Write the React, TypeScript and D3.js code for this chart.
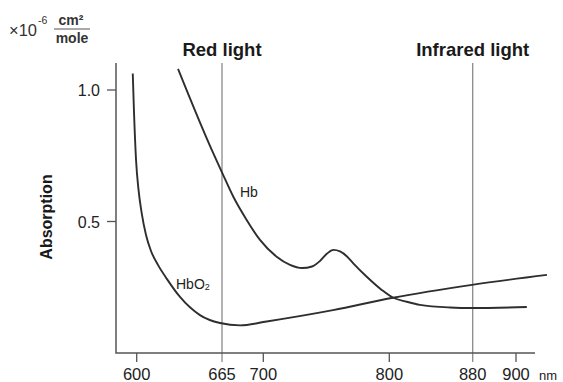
import { useEffect, useRef } from 'react';
import * as d3 from 'd3';

// wavelength (nm) / absorption (x10^-6 cm2/mole)
const hbo2Wave = [597, 597.9, 599.5, 601.4, 603.8, 607.1, 610.9, 616.2, 623.1, 633, 648.2, 663.5, 680.3, 702.7, 755.3, 803.5, 879.3, 914.3];
const hbo2Abs = [1.063, 0.922, 0.734, 0.62, 0.532, 0.449, 0.388, 0.335, 0.281, 0.213, 0.144, 0.114, 0.105, 0.12, 0.163, 0.21, 0.259, 0.297];

const hbWave = [631.5, 657.2, 664.8, 674.6, 685.9, 697.2, 710.6, 721.2, 730.7, 738.7, 745, 750.6, 755.6, 760.9, 766.4, 771.4, 782.1, 794, 803.8, 816.7, 829.4, 858.2, 879.3, 905];
const hbAbs = [1.08, 0.772, 0.689, 0.594, 0.506, 0.43, 0.366, 0.335, 0.323, 0.329, 0.35, 0.378, 0.392, 0.386, 0.367, 0.341, 0.29, 0.24, 0.21, 0.195, 0.183, 0.173, 0.171, 0.175];

const xTicks = [600, 665, 700, 800, 880, 900];
const yTicks = [0.5, 1.0];
const markers = [
  { nm: 665, label: 'Red light' },
  { nm: 880, label: 'Infrared light' },
];

const W = 563;
const H = 382;
const FONT = '"Liberation Sans", Arial, Helvetica, sans-serif';

const App = () => {
  const svgRef = useRef<SVGSVGElement>(null);

  useEffect(() => {
    const svg = d3.select(svgRef.current);
    svg.selectAll('*').remove();

    // the original drawing's wavelength axis is not evenly spaced
    const x = d3.scaleLinear()
      .domain(xTicks)
      .range([136.7, 222, 263.3, 389.3, 472.7, 516]);
    const y = d3.scaleLinear().domain([0, 1]).range([353, 90]);

    const x0 = 116, x1 = 535, yTop = 63, yBase = 353;

    svg.append('rect').attr('width', W).attr('height', H).attr('fill', '#fff');

    // marker lines
    markers.forEach(m => {
      svg.append('line')
        .attr('x1', x(m.nm)).attr('x2', x(m.nm))
        .attr('y1', yTop).attr('y2', yBase + 9)
        .attr('stroke', '#8a8a8a').attr('stroke-width', 1.3);
      svg.append('text')
        .attr('x', x(m.nm)).attr('y', 56)
        .attr('text-anchor', 'middle')
        .style('font', `bold 18.5px ${FONT}`)
        .attr('fill', '#1a1a1a')
        .text(m.label);
    });

    // axes
    svg.append('path')
      .attr('d', `M${x0},${yTop}V${yBase}H${x1}`)
      .attr('fill', 'none').attr('stroke', '#555').attr('stroke-width', 1.5);

    yTicks.forEach(t => {
      svg.append('line')
        .attr('x1', x0 - 9).attr('x2', x0).attr('y1', y(t)).attr('y2', y(t))
        .attr('stroke', '#555').attr('stroke-width', 1.3);
      svg.append('text')
        .attr('x', x0 - 16).attr('y', y(t) + 6)
        .attr('text-anchor', 'end')
        .style('font', `16px ${FONT}`).attr('fill', '#222')
        .text(t.toFixed(1));
    });

    xTicks.forEach(t => {
      if (t !== 665 && t !== 880) {
        svg.append('line')
          .attr('x1', x(t)).attr('x2', x(t)).attr('y1', yBase).attr('y2', yBase + 9)
          .attr('stroke', '#555').attr('stroke-width', 1.3);
      }
      svg.append('text')
        .attr('x', x(t)).attr('y', 380)
        .attr('text-anchor', 'middle')
        .style('font', `16.5px ${FONT}`).attr('fill', '#222')
        .text(t);
    });
    svg.append('text')
      .attr('x', 539).attr('y', 380)
      .style('font', `13px ${FONT}`).attr('fill', '#222')
      .text('nm');

    svg.append('text')
      .attr('transform', 'translate(52,217) rotate(-90)')
      .attr('text-anchor', 'middle')
      .style('font', `bold 16px ${FONT}`).attr('fill', '#1a1a1a')
      .text('Absorption');

    // unit label: x10^-6 cm2/mole
    const unit = svg.append('g').attr('fill', '#333').style('font-family', FONT);
    const pow = unit.append('text').attr('x', 9).attr('y', 36).style('font-size', '16.5px');
    pow.append('tspan').text('×10');
    pow.append('tspan').attr('dx', 1).attr('dy', -12).style('font-size', '10.5px').text('-6');
    unit.append('text').attr('x', 71).attr('y', 25).attr('text-anchor', 'middle')
      .style('font-size', '14px').style('font-weight', 'bold').text('cm²');
    unit.append('line').attr('x1', 54).attr('x2', 90).attr('y1', 29).attr('y2', 29)
      .attr('stroke', '#555').attr('stroke-width', 1.2);
    unit.append('text').attr('x', 72).attr('y', 43).attr('text-anchor', 'middle')
      .style('font-size', '14px').style('font-weight', 'bold').text('mole');

    // curves
    const line = d3.line<[number, number]>()
      .x(d => x(d[0]))
      .y(d => y(d[1]))
      .curve(d3.curveMonotoneX);

    const series = [
      d3.zip(hbo2Wave, hbo2Abs) as [number, number][],
      d3.zip(hbWave, hbAbs) as [number, number][],
    ];
    svg.append('g').selectAll('path')
      .data(series)
      .join('path')
      .attr('d', d => line(d))
      .attr('fill', 'none')
      .attr('stroke', '#2e2e2e')
      .attr('stroke-width', 1.9);

    // curve labels
    svg.append('text')
      .attr('x', 240).attr('y', 197)
      .style('font', `14px ${FONT}`).attr('fill', '#222')
      .text('Hb');
    const hbo2 = svg.append('text')
      .attr('x', 176).attr('y', 289)
      .style('font', `14px ${FONT}`).attr('fill', '#222');
    hbo2.append('tspan').text('HbO');
    hbo2.append('tspan').attr('dy', 1).style('font-size', '9px').text('2');
  }, []);

  return (
    <div style={{ position: 'fixed', left: 0, top: 0 }}>
      <svg ref={svgRef} width={W} height={H} style={{ display: 'block' }} />
    </div>
  );
};

export default App;
